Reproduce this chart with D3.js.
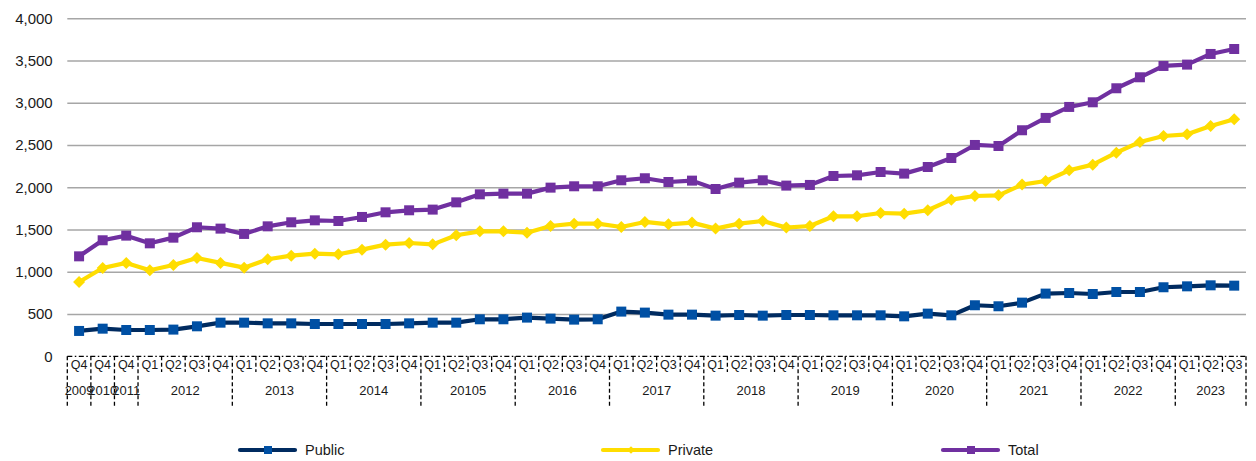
<!DOCTYPE html>
<html>
<head>
<meta charset="utf-8">
<script src="https://cdn.jsdelivr.net/npm/d3@7"></script>
<style>
  html, body { margin: 0; padding: 0; background: #fff; }
  svg { display: block; font-family: "Liberation Sans", Arial, sans-serif; }
</style>
</head>
<body>
<svg id="chart" width="1256" height="461"></svg>
<script>
// quarter labels, one per point
const quarters = ["Q4", "Q4", "Q4",
  "Q1", "Q2", "Q3", "Q4", "Q1", "Q2", "Q3", "Q4", "Q1", "Q2", "Q3", "Q4",
  "Q1", "Q2", "Q3", "Q4", "Q1", "Q2", "Q3", "Q4", "Q1", "Q2", "Q3", "Q4",
  "Q1", "Q2", "Q3", "Q4", "Q1", "Q2", "Q3", "Q4", "Q1", "Q2", "Q3", "Q4",
  "Q1", "Q2", "Q3", "Q4", "Q1", "Q2", "Q3", "Q4", "Q1", "Q2", "Q3"];

// year groups (label as printed in the source, and how many quarters each spans)
const yearLabels = ["2009", "2010", "2011", "2012", "2013", "2014", "20105", "2016",
  "2017", "2018", "2019", "2020", "2021", "2022", "2023"];
const yearSpans = [1, 1, 1, 4, 4, 4, 4, 4, 4, 4, 4, 4, 4, 4, 3];

const publicValues = [300, 327, 311, 311, 316, 355, 398, 398, 390, 390, 382, 382, 382, 382, 390,
  398, 398, 438, 438, 458, 446, 434, 438, 529, 517, 493, 493, 481, 489, 481, 489, 489,
  485, 485, 485, 473, 505, 485, 604, 592, 635, 742, 749, 737, 761, 761, 817, 828, 840, 836];

const privateValues = [880, 1045, 1105, 1018, 1081, 1164, 1105, 1049, 1148, 1191, 1215, 1207, 1262, 1321, 1341,
  1325, 1432, 1479, 1479, 1463, 1542, 1570, 1570, 1530, 1590, 1562, 1582, 1511, 1570, 1601, 1523, 1542,
  1657, 1657, 1696, 1688, 1728, 1854, 1897, 1905, 2032, 2075, 2201, 2268, 2410, 2536, 2607, 2627, 2726, 2805];

const totalValues = [1183, 1373, 1428, 1337, 1404, 1527, 1511, 1448, 1538, 1586, 1609, 1601, 1649, 1704, 1728,
  1736, 1822, 1917, 1925, 1925, 1996, 2012, 2012, 2083, 2107, 2063, 2079, 1980, 2055, 2083, 2020, 2028,
  2134, 2142, 2181, 2162, 2240, 2347, 2501, 2489, 2675, 2821, 2951, 3006, 3172, 3302, 3436, 3452, 3578, 3637];

const yTicks = [0, 500, 1000, 1500, 2000, 2500, 3000, 3500, 4000];

const series = [
  { name: "Public", values: publicValues, line: "#002b60", marker: "#0050a4", shape: "square", size: 100 },
  { name: "Private", values: privateValues, line: "#ffdd00", marker: "#ffdd00", shape: "diamond", size: 72 },
  { name: "Total", values: totalValues, line: "#7030a0", marker: "#7030a0", shape: "square", size: 100 }
];

var svg = d3.select("#chart");
var plotLeft = 67.3, plotRight = 1246, plotTop = 18.3, plotBottom = 356.3;

var x = d3.scaleBand().domain(d3.range(quarters.length)).range([plotLeft, plotRight]).padding(0);
var y = d3.scaleLinear().domain([0, 4000]).range([plotBottom, plotTop]);
var cx = i => x(i) + x.bandwidth() / 2;

// horizontal gridlines and y labels
var yAxis = svg.append("g")
  .attr("transform", `translate(${plotLeft},0)`)
  .call(d3.axisLeft(y).tickValues(yTicks).tickFormat(d3.format(",")).tickSize(-(plotRight - plotLeft)).tickPadding(14.6));
yAxis.select(".domain").remove();
yAxis.selectAll(".tick line")
  .attr("stroke", "#a6a6a6")
  .attr("stroke-width", 1.5)
  .attr("display", d => d === 0 ? "none" : null);
yAxis.selectAll(".tick text")
  .attr("font-size", 15)
  .attr("fill", "#1a1a1a")
  .attr("font-family", "Liberation Sans, Arial, sans-serif");

// category axis: dash-dot baseline, dashed separators, two label rows
var xAxis = svg.append("g");
xAxis.append("line")
  .attr("x1", plotLeft).attr("x2", plotRight)
  .attr("y1", plotBottom).attr("y2", plotBottom)
  .attr("stroke", "#000").attr("stroke-width", 1.3)
  .attr("stroke-dasharray", "5,2.5,1.5,2.5");

// year boundaries (indices where each year starts, plus the end)
var yearStarts = [0];
yearSpans.forEach((n, i) => yearStarts.push(yearStarts[i] + n));

var boundaries = d3.range(quarters.length + 1);
var bx = d => d < quarters.length ? x(d) : plotRight;
xAxis.selectAll("line.sep")
  .data(boundaries)
  .join("line")
  .attr("class", "sep")
  .attr("x1", bx)
  .attr("x2", bx)
  .attr("y1", plotBottom)
  .attr("y2", d => yearStarts.includes(d) ? 406 : 372)
  .attr("stroke", "#000").attr("stroke-width", 1.3)
  .attr("stroke-dasharray", "4,2.5");

xAxis.selectAll("text.q")
  .data(quarters)
  .join("text")
  .attr("class", "q")
  .attr("x", (d, i) => cx(i))
  .attr("y", 368.5)
  .attr("text-anchor", "middle")
  .attr("font-size", 12.5)
  .attr("fill", "#1a1a1a")
  .text(d => d);

xAxis.selectAll("text.yr")
  .data(yearLabels)
  .join("text")
  .attr("class", "yr")
  .attr("x", (d, i) => (bx(yearStarts[i]) + bx(yearStarts[i + 1])) / 2)
  .attr("y", 395)
  .attr("text-anchor", "middle")
  .attr("font-size", 13)
  .attr("fill", "#1a1a1a")
  .text(d => d);

// lines and markers
var line = d3.line().x((d, i) => cx(i)).y(d => y(d));
var symbolFor = s => d3.symbol().type(d3.symbolSquare).size(s.size)();

series.forEach(s => {
  var g = svg.append("g");
  g.append("path")
    .attr("d", line(s.values))
    .attr("fill", "none")
    .attr("stroke", s.line)
    .attr("stroke-width", 4.2)
    .attr("stroke-linejoin", "round");
  g.selectAll("path.m")
    .data(s.values)
    .join("path")
    .attr("class", "m")
    .attr("d", symbolFor(s))
    .attr("transform", (d, i) => `translate(${cx(i)},${y(d)})` + (s.shape === "diamond" ? " rotate(45)" : ""))
    .attr("fill", s.marker);
});

// legend
var legendX = [240, 603, 943];
var legend = svg.append("g");
series.forEach((s, i) => {
  var g = legend.append("g").attr("transform", `translate(${legendX[i]},450)`);
  g.append("line")
    .attr("x1", 0).attr("x2", 55)
    .attr("stroke", s.line).attr("stroke-width", 4.2)
    .attr("stroke-linecap", "round");
  g.append("path")
    .attr("d", d3.symbol().type(d3.symbolSquare).size(s.shape === "diamond" ? 30 : 64)())
    .attr("transform", "translate(28,0)" + (s.shape === "diamond" ? " rotate(45)" : ""))
    .attr("fill", s.marker);
  g.append("text")
    .attr("x", 65).attr("y", 5.2)
    .attr("font-size", 14.5)
    .attr("fill", "#1a1a1a")
    .text(s.name);
});
</script>
</body>
</html>
